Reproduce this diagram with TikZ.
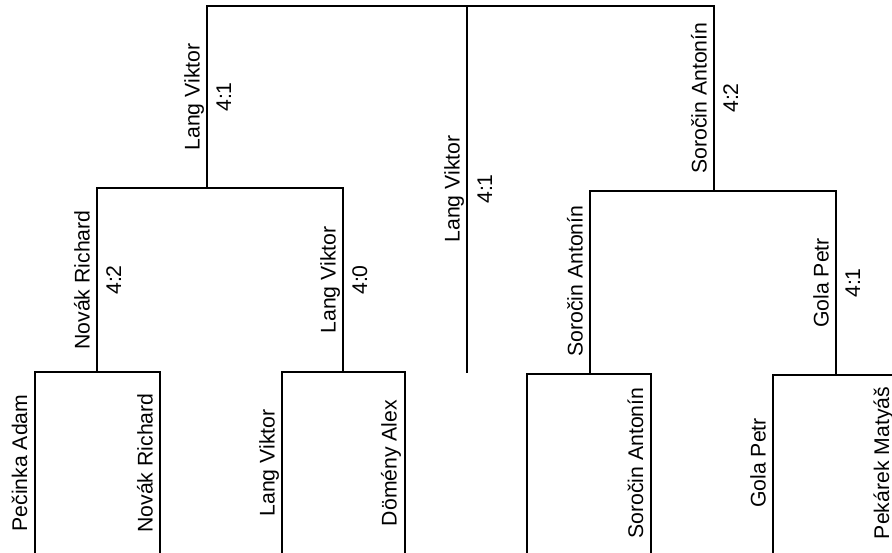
\documentclass[tikz,border=0pt]{standalone}
\usepackage{fontspec}
\setmainfont{Liberation Sans}
\begin{document}
\begin{tikzpicture}[x=1bp,y=-1bp,
  bline/.style={line width=1.8bp,line join=miter},
  lbl/.style={rotate=90,anchor=base,inner sep=0pt,font=\fontsize{21.3}{24}\selectfont}]
\useasboundingbox (0,0) rectangle (892,553);
% junction coordinates
\coordinate (t1) at (207,6);
\coordinate (t2) at (714,6);
\coordinate (c0) at (467,6);
\coordinate (c1) at (467,373);
\coordinate (l0) at (207,188);
\coordinate (la) at (97,188);
\coordinate (lb) at (343,188);
\coordinate (la1) at (97,372);
\coordinate (p1) at (35,372);
\coordinate (p2) at (160,372);
\coordinate (p1e) at (35,565);
\coordinate (p2e) at (160,565);
\coordinate (lb1) at (343,372);
\coordinate (p3) at (282,372);
\coordinate (p4) at (405,372);
\coordinate (p3e) at (282,565);
\coordinate (p4e) at (405,565);
\coordinate (r0) at (714,191);
\coordinate (ra) at (590,191);
\coordinate (rb) at (836,191);
\coordinate (ra1) at (590,374);
\coordinate (p5) at (527,374);
\coordinate (p6) at (651,374);
\coordinate (p5e) at (527,565);
\coordinate (p6e) at (651,565);
\coordinate (rb1) at (836,375);
\coordinate (p7) at (773,375);
\coordinate (p8) at (898,375);
\coordinate (p7e) at (773,565);
\coordinate (p8e) at (898,565);
% bracket lines
\draw[bline] (l0) -- (t1) -- (t2) -- (r0);
\draw[bline] (c0) -- (c1);
\draw[bline] (la1) -- (la) -- (lb) -- (lb1);
\draw[bline] (ra1) -- (ra) -- (rb) -- (rb1);
\draw[bline] (p1e) -- (p1) -- (p2) -- (p2e);
\draw[bline] (p3e) -- (p3) -- (p4) -- (p4e);
\draw[bline] (p5e) -- (p5) -- (p6) -- (p6e);
\draw[bline] (p7e) -- (p7) -- (p8) -- (p8e);
% round labels
\node[lbl] (n1) at (199.5,97) {Lang Viktor};
\node[lbl] (s1) at (231,97) {4:1};
\node[lbl] (n2) at (89.5,280) {Novák Richard};
\node[lbl] (s2) at (121,280) {4:2};
\node[lbl] (n3) at (335.5,280) {Lang Viktor};
\node[lbl] (s3) at (367,280) {4:0};
\node[lbl] (n4) at (459.5,189) {Lang Viktor};
\node[lbl] (s4) at (492,189) {4:1};
\node[lbl] (n5) at (706.5,98) {Soročin Antonín};
\node[lbl] (s5) at (738,98) {4:2};
\node[lbl] (n6) at (582.5,281) {Soročin Antonín};
\node[lbl] (n7) at (828.5,283) {Gola Petr};
\node[lbl] (s7) at (860,283) {4:1};
% players
\node[lbl] (q1) at (27,463) {Pečinka Adam};
\node[lbl] (q2) at (152.5,463) {Novák Richard};
\node[lbl] (q3) at (274.5,463) {Lang Viktor};
\node[lbl] (q4) at (396.5,463) {Dömény Alex};
\node[lbl] (q5) at (643,463) {Soročin Antonín};
\node[lbl] (q6) at (765.5,463) {Gola Petr};
\node[lbl] (q7) at (889,463) {Pekárek Matyáš};
\end{tikzpicture}
\end{document}
